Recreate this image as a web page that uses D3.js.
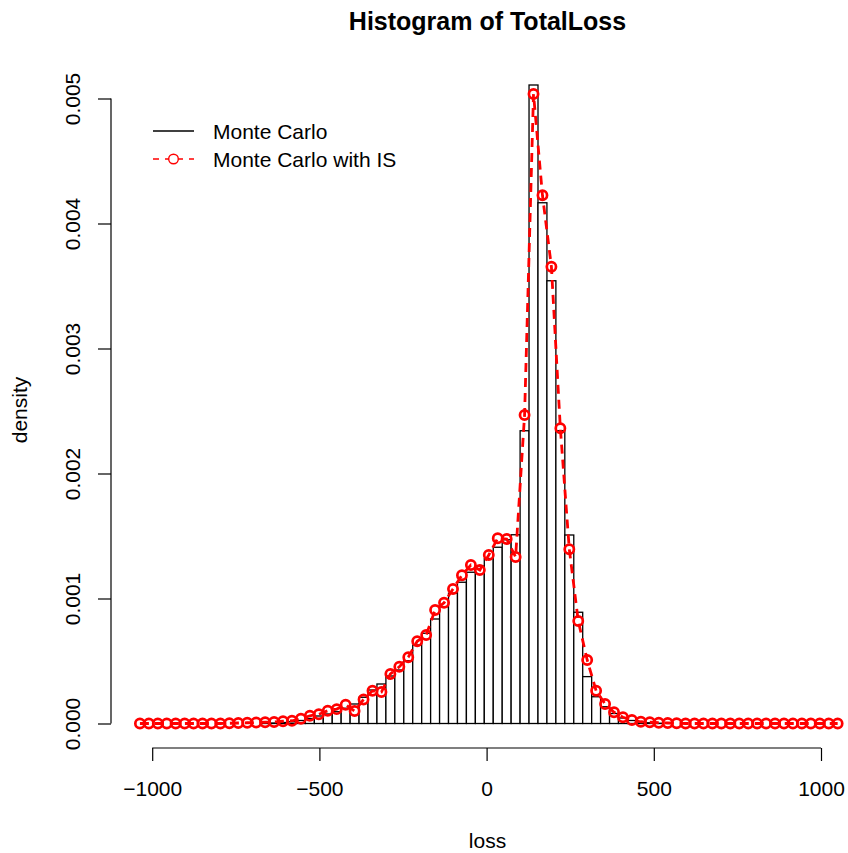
<!DOCTYPE html>
<html>
<head>
<meta charset="utf-8">
<script src="https://cdn.jsdelivr.net/npm/d3@7"></script>
<style>
  html, body { margin: 0; padding: 0; background: #fff; }
  svg { display: block; font-family: "Liberation Sans", Arial, Helvetica, sans-serif; }
</style>
</head>
<body>
<svg id="chart" width="848" height="853"></svg>
<script>
// ---------- data ----------
const breaks = [
  -1050.1, -1023.4, -996.6, -969.9, -943.1, -916.4, -889.6, -862.9, -836.1, -809.4,
  -782.6, -755.9, -729.1, -702.4, -675.6, -648.9, -622.1, -595.4, -568.6, -541.9,
  -515.1, -488.4, -461.6, -434.9, -408.1, -381.4, -354.6, -327.9, -301.1, -274.4,
  -247.6, -220.9, -194.1, -167.4, -140.6, -113.9, -87.1, -60.4, -33.6, -6.9,
  19.9, 46.7, 73.4, 100.2, 126.9, 153.7, 180.4, 207.2, 233.9, 260.7,
  287.4, 314.2, 340.9, 367.7, 394.4, 421.2, 447.9, 474.7, 501.4, 528.2,
  554.9, 581.7, 608.4, 635.2, 661.9, 688.7, 715.4, 742.2, 768.9, 795.7,
  822.4, 849.2, 875.9, 902.7, 929.4, 956.2, 982.9, 1009.7, 1036.4, 1063.2
];

// Monte Carlo histogram density (one per bin)
const mcDensity = [
  0, 0, 0, 0, 0, 0, 0, 0, 0, 0,
  0, 0, 0, 0, 0.000002, 0.000004, 0.000008, 0.000014, 0.000024, 0.00004,
  0.00006, 0.000076, 0.000094, 0.000122, 0.000156, 0.00021, 0.000268, 0.000316, 0.00038, 0.000428,
  0.000502, 0.000628, 0.000722, 0.000836, 0.000934, 0.001042, 0.00113, 0.00121, 0.00126, 0.00132,
  0.00141, 0.00147, 0.00151, 0.002342, 0.005108, 0.004166, 0.003542, 0.002342, 0.001508, 0.00089,
  0.000375, 0.000214, 0.000134, 0.00008, 0.000044, 0.000024, 0.000012, 0.000006, 0.000002, 0,
  0, 0, 0, 0, 0, 0, 0, 0, 0, 0,
  0, 0, 0, 0, 0, 0, 0, 0, 0
];

// Monte Carlo with importance sampling density (one per bin midpoint)
const isDensity = [
  0, 0, 0, 0, 0, 0, 0, 0, 0, 0,
  0.000002, 0.000004, 0.000006, 0.000008, 0.00001, 0.000012, 0.000018, 0.000022, 0.000038, 0.000062,
  0.000074, 0.000102, 0.000115, 0.00015, 0.0001, 0.000192, 0.000262, 0.000252, 0.000396, 0.000454,
  0.00053, 0.000658, 0.000708, 0.000908, 0.000966, 0.001076, 0.001186, 0.001268, 0.001228, 0.001348,
  0.001482, 0.001476, 0.001332, 0.002468, 0.005036, 0.004226, 0.003654, 0.002362, 0.001394, 0.00082,
  0.000508, 0.000262, 0.000156, 0.00009, 0.00005, 0.000028, 0.000014, 0.00001, 0.000006, 0.000004,
  0.000002, 0, 0, 0, 0, 0, 0, 0, 0, 0,
  0, 0, 0, 0, 0, 0, 0, 0, 0
];

const xTicks = [-1000, -500, 0, 500, 1000];
const xTickLabels = ["\u22121000", "\u2212500", "0", "500", "1000"];
const yTicks = [0, 0.001, 0.002, 0.003, 0.004, 0.005];
const yTickLabels = ["0.000", "0.001", "0.002", "0.003", "0.004", "0.005"];

const titleText = "Histogram of TotalLoss";
const xLabel = "loss";
const yLabel = "density";
const legendLabels = ["Monte Carlo", "Monte Carlo with IS"];

// ---------- layout ----------
const svg = d3.select("#chart");
const x = d3.scaleLinear().domain([-1000, 1000]).range([152.2, 821.0]);
const y = d3.scaleLinear().domain([0, 0.005]).range([723.5, 98.5]);
const axisX = 111;      // y axis position
const axisY = 748;      // x axis position
const tickLen = 13;
const fs = 21;

// histogram bars
const bins = mcDensity.map((d, i) => ({ x0: breaks[i], x1: breaks[i + 1], d }));
svg.append("g").selectAll("rect").data(bins).join("rect")
  .attr("x", b => x(b.x0))
  .attr("y", b => y(b.d))
  .attr("width", b => x(b.x1) - x(b.x0))
  .attr("height", b => y(0) - y(b.d))
  .attr("fill", "#fff")
  .attr("stroke", "#000")
  .attr("stroke-width", 1.3);

// IS line + points
const mids = breaks.slice(0, -1).map((b, i) => (b + breaks[i + 1]) / 2);
const pts = isDensity.map((d, i) => [mids[i], d]);
svg.append("path")
  .datum(pts)
  .attr("d", d3.line().x(p => x(p[0])).y(p => y(p[1])))
  .attr("fill", "none")
  .attr("stroke", "#ff0000")
  .attr("stroke-width", 2.8)
  .attr("stroke-dasharray", "9,6");
svg.append("g").selectAll("circle").data(pts).join("circle")
  .attr("cx", p => x(p[0]))
  .attr("cy", p => y(p[1]))
  .attr("r", 4.6)
  .attr("fill", "none")
  .attr("stroke", "#ff0000")
  .attr("stroke-width", 2.7);

// x axis
const gx = svg.append("g").attr("transform", `translate(0,${axisY})`)
  .call(d3.axisBottom(x).tickValues(xTicks).tickSize(tickLen).tickPadding(20)
        .tickFormat((d, i) => xTickLabels[i]));
gx.select(".domain").attr("d", `M${x(xTicks[0])},0H${x(xTicks[xTicks.length - 1])}`);
gx.selectAll("text").attr("font-size", fs).attr("fill", "#000")
  .attr("font-family", "Liberation Sans, Arial, sans-serif");
gx.selectAll("line, path").attr("stroke", "#000").attr("stroke-width", 1.2);

// y axis
const gy = svg.append("g").attr("transform", `translate(${axisX},0)`)
  .call(d3.axisLeft(y).tickValues(yTicks).tickSize(tickLen).tickFormat((d, i) => yTickLabels[i]));
gy.select(".domain").attr("d", `M0,${y(yTicks[0])}V${y(yTicks[yTicks.length - 1])}`);
gy.selectAll("line, path").attr("stroke", "#000").attr("stroke-width", 1.2);
gy.selectAll("text")
  .attr("font-size", fs).attr("fill", "#000")
  .attr("font-family", "Liberation Sans, Arial, sans-serif")
  .attr("x", null).attr("dy", null)
  .attr("text-anchor", "middle")
  .attr("transform", "translate(-31,0) rotate(-90)");

// titles
svg.append("text").attr("x", 487.5).attr("y", 30)
  .attr("text-anchor", "middle").attr("font-weight", "bold").attr("font-size", 25)
  .text(titleText);
svg.append("text").attr("x", 487.5).attr("y", 848)
  .attr("text-anchor", "middle").attr("font-size", fs).text(xLabel);
svg.append("text").attr("transform", "translate(27,410) rotate(-90)")
  .attr("text-anchor", "middle").attr("font-size", fs).text(yLabel);

// legend
const lg = svg.append("g");
lg.append("line").attr("x1", 153).attr("x2", 194).attr("y1", 131).attr("y2", 131)
  .attr("stroke", "#000").attr("stroke-width", 1.3);
lg.append("line").attr("x1", 153).attr("x2", 194).attr("y1", 159).attr("y2", 159)
  .attr("stroke", "#ff0000").attr("stroke-width", 1.3).attr("stroke-dasharray", "6,6");
lg.append("circle").attr("cx", 173.5).attr("cy", 159).attr("r", 4.8)
  .attr("fill", "#fff").attr("stroke", "#ff0000").attr("stroke-width", 1.4);
lg.selectAll("text").data(legendLabels).join("text")
  .attr("x", 213).attr("y", (d, i) => 138.5 + i * 28)
  .attr("font-size", fs).text(d => d);
</script>
</body>
</html>
